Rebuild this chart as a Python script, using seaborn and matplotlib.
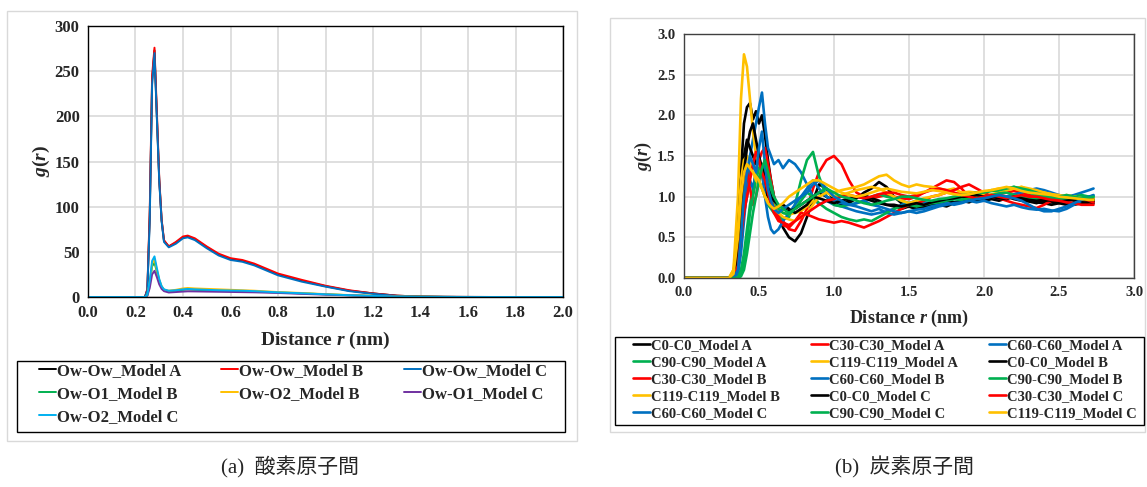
import matplotlib
matplotlib.use('Agg')
import matplotlib.pyplot as plt
from matplotlib.patches import Rectangle
import seaborn as sns
import pandas as pd

# ---------------- (a) oxygen pairs ----------------
r_o = [0.00, 0.24, 0.25, 0.26, 0.27, 0.28, 0.29, 0.30, 0.31, 0.32, 0.34, 0.37, 0.40, 0.42, 0.45,
       0.50, 0.55, 0.60, 0.65, 0.70, 0.80, 0.90, 1.00, 1.10, 1.20, 1.30, 1.40, 1.50, 1.60, 1.80, 2.00]
ow_ow_a = [0, 0, 8, 90, 240, 273, 200, 130, 85, 62, 56, 60, 66, 67, 64,
           55, 47, 42, 40, 36, 25, 18, 12, 7, 4, 1.5, 0.5, 0.2, 0.1, 0, 0]
ow_ow_b = [0, 0, 9, 95, 245, 276, 205, 132, 86, 63, 56, 61, 67, 68, 65,
           56, 48, 43, 41, 37, 26, 19, 12.5, 7.5, 4, 1.5, 0.5, 0.2, 0.1, 0, 0]
ow_ow_c = [0, 0, 7, 85, 235, 270, 198, 128, 84, 61, 55, 59, 65, 66, 63,
           54, 46, 41, 39, 35, 24, 17, 11.5, 6.5, 3.5, 1.2, 0.4, 0.2, 0.1, 0, 0]
ow_o1_b = [0, 0, 2, 15, 34, 38, 28, 18, 11, 8, 6, 7, 8, 8.5, 8,
           7.5, 7, 7, 6.5, 6, 5, 4, 3, 2, 1.2, 0.6, 0.3, 0.1, 0, 0, 0]
ow_o2_b = [0, 0, 2, 16, 37, 42, 30, 19, 12, 8, 7, 8, 9.5, 10, 9.5,
           9, 8.5, 8, 7.5, 7, 5.5, 4.5, 3.2, 2.2, 1.3, 0.6, 0.3, 0.1, 0, 0, 0]
ow_o1_c = [0, 0, 1.5, 10, 25, 29, 22, 14, 9, 6.5, 5, 5.5, 6, 6.3, 6.2,
           6, 5.8, 5.6, 5.4, 5.2, 4.5, 3.5, 2.6, 1.8, 1.0, 0.5, 0.2, 0.1, 0, 0, 0]
ow_o2_c = [0, 0, 2.5, 18, 40, 45, 32, 20, 12, 8.5, 7, 7.5, 8.5, 9, 8.5,
           8, 7.5, 7.2, 7, 6.5, 5.2, 4.2, 3, 2, 1.2, 0.5, 0.2, 0.1, 0, 0, 0]

o_names = ['Ow-Ow_Model A', 'Ow-Ow_Model B', 'Ow-Ow_Model C', 'Ow-O1_Model B',
           'Ow-O2_Model B', 'Ow-O1_Model C', 'Ow-O2_Model C']
o_values = [ow_ow_a, ow_ow_b, ow_ow_c, ow_o1_b, ow_o2_b, ow_o1_c, ow_o2_c]
o_colors = ['#000000', '#FF0000', '#0070C0', '#00B050', '#FFC000', '#7030A0', '#00B0F0']

# ---------------- (b) carbon pairs ----------------
r_c = [0.00, 0.30, 0.33, 0.36, 0.38,
       0.40, 0.42, 0.44, 0.46, 0.48, 0.50, 0.52, 0.54, 0.56, 0.58, 0.60,
       0.63, 0.66, 0.70, 0.74, 0.78, 0.82, 0.86, 0.90, 0.95,
       1.00, 1.05, 1.10, 1.15, 1.20, 1.25, 1.30, 1.35, 1.40, 1.45,
       1.50, 1.55, 1.60, 1.65, 1.70, 1.75, 1.80, 1.85, 1.90, 1.95,
       2.00, 2.05, 2.10, 2.15, 2.20, 2.25, 2.30, 2.35, 2.40, 2.45,
       2.50, 2.55, 2.60, 2.65, 2.70, 2.73]

c0_a = [0, 0, 0.02, 0.4, 1.3,
        1.9, 2.1, 2.15, 1.95, 2.05, 1.9, 2.0, 1.75, 1.45, 1.2, 1.0,
        0.8, 0.62, 0.5, 0.45, 0.55, 0.75, 0.95, 1.15, 1.1,
        0.95, 0.9, 0.92, 0.98, 1.05, 1.1, 1.18, 1.12, 1.0, 0.92,
        0.88, 0.85, 0.88, 0.86, 0.9, 0.88, 0.92, 0.95, 0.93, 0.97,
        0.95, 0.98, 0.96, 1.0, 0.97, 0.95, 0.94, 0.92, 0.95, 0.93,
        0.92, 0.9, 0.93, 0.91, 0.93, 0.92]
c30_a = [0, 0, 0, 0.1, 0.5,
         0.9, 1.2, 1.3, 1.35, 1.5, 1.45, 1.55, 1.6, 1.4, 1.2, 1.0,
         0.8, 0.7, 0.6, 0.58, 0.7, 0.85, 1.1, 1.3, 1.45,
         1.5, 1.4, 1.2, 1.05, 1.0, 0.98, 1.0, 1.02, 1.0, 0.98,
         0.97, 1.0, 1.05, 1.1, 1.15, 1.2, 1.18, 1.1, 1.0, 0.95,
         0.97, 1.0, 1.03, 1.05, 1.07, 1.05, 1.02, 1.0, 1.0, 0.98,
         0.97, 0.95, 0.97, 0.95, 0.94, 0.95]
c60_a = [0, 0, 0, 0.05, 0.3,
         0.7, 1.1, 1.5, 1.7, 1.9, 2.1, 2.28, 1.9, 1.6, 1.5, 1.4,
         1.45, 1.35, 1.45, 1.4, 1.3, 1.15, 1.0, 0.9, 0.95,
         0.9, 0.88, 0.85, 0.82, 0.8, 0.78, 0.8, 0.82, 0.85, 0.9,
         0.92, 0.95, 0.93, 0.92, 0.94, 0.96, 0.98, 1.0, 0.98, 1.0,
         1.02, 1.0, 0.98, 1.0, 1.03, 1.05, 1.08, 1.1, 1.08, 1.05,
         1.02, 1.0, 1.02, 1.05, 1.08, 1.1]
c90_a = [0, 0, 0, 0, 0.1,
         0.3, 0.6, 0.9, 1.1, 1.3, 1.2, 1.1, 1.0, 0.9, 0.85, 0.8,
         0.75, 0.72, 0.75, 0.9, 1.2, 1.45, 1.55, 1.25, 1.0,
         0.9, 0.88, 0.9, 0.92, 0.95, 1.0, 1.03, 1.0, 0.98, 0.95,
         0.92, 0.9, 0.88, 0.9, 0.92, 0.95, 0.97, 0.98, 1.0, 1.02,
         1.05, 1.08, 1.06, 1.1, 1.12, 1.08, 1.05, 1.02, 1.0, 0.98,
         1.0, 0.98, 1.0, 1.02, 1.0, 1.01]
c119_a = [0, 0, 0.1, 1.0, 2.2,
          2.75, 2.6, 2.2, 1.8, 1.5, 1.3, 1.25, 1.1, 1.0, 0.95, 0.9,
          0.85, 0.8, 0.78, 0.8, 0.82, 0.88, 0.95, 1.0, 1.05,
          1.05, 1.08, 1.1, 1.12, 1.15, 1.2, 1.25, 1.27, 1.2, 1.15,
          1.12, 1.15, 1.13, 1.12, 1.1, 1.08, 1.1, 1.05, 1.0, 1.0,
          1.02, 1.03, 1.05, 1.08, 1.1, 1.12, 1.08, 1.05, 1.05, 1.03,
          1.0, 1.02, 1.0, 0.98, 0.97, 0.96]
c0_b = [0, 0, 0.05, 0.5, 1.2,
        1.5, 1.7, 1.6, 1.5, 1.4, 1.45, 1.3, 1.1, 0.95, 0.9, 0.85,
        0.88, 0.9, 0.85, 0.8, 0.85, 0.9, 1.0, 1.05, 1.0,
        0.95, 0.92, 0.95, 1.0, 1.02, 0.98, 0.95, 0.9, 0.88, 0.85,
        0.88, 0.85, 0.88, 0.9, 0.92, 0.95, 0.93, 0.95, 0.98, 0.96,
        0.95, 0.97, 0.95, 0.98, 1.0, 0.97, 0.95, 0.93, 0.92, 0.9,
        0.92, 0.93, 0.9, 0.92, 0.93, 0.94]
c30_b = [0, 0, 0, 0.2, 0.6,
         1.0, 1.3, 1.1, 0.9, 1.0, 1.2, 1.35, 1.45, 1.2, 1.0, 0.85,
         0.75, 0.65, 0.62, 0.7, 0.8, 0.78, 0.75, 0.72, 0.7,
         0.68, 0.7, 0.68, 0.65, 0.62, 0.66, 0.7, 0.75, 0.8, 0.85,
         0.9, 0.92, 0.95, 1.0, 1.02, 1.05, 1.08, 1.12, 1.15, 1.1,
         1.05, 1.0, 0.98, 0.95, 0.92, 0.9, 0.88, 0.86, 0.9, 0.95,
         0.98, 1.0, 0.98, 0.97, 0.95, 0.93]
c60_b = [0, 0, 0, 0.1, 0.4,
         0.8, 1.0, 1.2, 1.1, 1.3, 1.5, 1.3, 1.0, 0.75, 0.6, 0.55,
         0.6, 0.7, 0.8, 0.9, 1.0, 1.1, 1.2, 1.1, 1.0,
         0.95, 0.92, 0.9, 0.88, 0.85, 0.82, 0.85, 0.8, 0.78, 0.8,
         0.82, 0.84, 0.85, 0.88, 0.9, 0.92, 0.9, 0.92, 0.95, 0.93,
         0.95, 0.92, 0.9, 0.88, 0.9, 0.87, 0.85, 0.84, 0.85, 0.83,
         0.82, 0.85, 0.9, 0.95, 0.97, 0.98]
c90_b = [0, 0, 0, 0, 0.05,
         0.2, 0.45, 0.8, 1.0, 1.2, 1.35, 1.4, 1.3, 1.15, 1.05, 0.95,
         0.85, 0.8, 0.78, 0.85, 0.95, 1.05, 1.0, 0.92, 0.85,
         0.8, 0.75, 0.72, 0.7, 0.72, 0.7, 0.75, 0.8, 0.85, 0.88,
         0.9, 0.88, 0.9, 0.92, 0.93, 0.95, 0.97, 0.96, 0.98, 1.0,
         1.0, 1.02, 1.04, 1.05, 1.02, 1.0, 0.98, 0.97, 0.98, 1.0,
         0.98, 0.97, 0.98, 0.99, 1.0, 0.99]
c119_b = [0, 0, 0.1, 0.6, 1.2,
          1.45, 1.5, 1.4, 1.3, 1.2, 1.15, 1.1, 1.0, 0.95, 0.9, 0.85,
          0.8, 0.75, 0.72, 0.7, 0.75, 0.8, 0.9, 1.0, 1.05,
          1.0, 1.02, 1.05, 1.08, 1.1, 1.12, 1.1, 1.05, 1.0, 0.95,
          0.92, 0.95, 0.98, 1.0, 1.02, 1.05, 1.03, 1.05, 1.06, 1.05,
          1.05, 1.08, 1.1, 1.08, 1.1, 1.12, 1.1, 1.08, 1.05, 1.03,
          1.02, 1.0, 1.0, 0.98, 0.97, 0.98]
c0_c = [0, 0, 0.02, 0.3, 0.9,
        1.3, 1.6, 1.8, 1.9, 1.7, 1.5, 1.35, 1.25, 1.1, 1.0, 0.95,
        0.9, 0.85, 0.82, 0.85, 0.9, 0.95, 1.0, 0.98, 0.95,
        0.92, 0.95, 0.98, 1.0, 0.98, 0.95, 0.92, 0.9, 0.9, 0.88,
        0.9, 0.92, 0.9, 0.93, 0.95, 0.97, 0.98, 1.0, 1.0, 1.02,
        1.0, 1.0, 0.98, 0.97, 1.0, 0.98, 0.96, 0.95, 0.96, 0.95,
        0.94, 0.95, 0.96, 0.95, 0.96, 0.96]
c30_c = [0, 0, 0, 0.15, 0.5,
         0.8, 1.0, 1.2, 1.4, 1.55, 1.45, 1.3, 1.2, 1.05, 0.9, 0.8,
         0.7, 0.68, 0.65, 0.7, 0.75, 0.8, 0.85, 0.9, 0.95,
         0.97, 1.0, 1.02, 1.0, 0.98, 1.0, 1.03, 1.05, 1.05, 1.02,
         1.0, 1.02, 1.05, 1.08, 1.1, 1.08, 1.05, 1.02, 1.0, 0.98,
         1.0, 1.02, 1.0, 0.98, 1.0, 1.02, 1.0, 1.0, 0.98, 0.96,
         0.95, 0.93, 0.92, 0.9, 0.9, 0.9]
c60_c = [0, 0, 0, 0.1, 0.5,
         1.0, 1.3, 1.5, 1.4, 1.3, 1.6, 1.8, 1.4, 1.1, 0.95, 0.85,
         0.8, 0.85, 0.9, 0.95, 1.0, 1.05, 1.15, 1.2, 1.1,
         1.0, 0.95, 0.9, 0.92, 0.95, 0.9, 0.88, 0.85, 0.82, 0.8,
         0.82, 0.8, 0.82, 0.85, 0.88, 0.9, 0.92, 0.93, 0.95, 0.97,
         0.98, 1.0, 1.02, 1.0, 0.98, 0.95, 0.9, 0.85, 0.82, 0.82,
         0.85, 0.88, 0.92, 0.96, 1.0, 1.02]
c90_c = [0, 0, 0, 0, 0.02,
         0.1, 0.3, 0.55, 0.8, 1.0, 1.2, 1.35, 1.45, 1.3, 1.15, 1.0,
         0.9, 0.85, 0.8, 0.85, 0.9, 0.95, 1.0, 1.05, 1.1,
         1.05, 1.0, 0.98, 0.95, 0.92, 0.9, 0.92, 0.95, 0.97, 1.0,
         1.0, 0.98, 0.96, 0.95, 0.97, 0.98, 1.0, 1.02, 1.03, 1.05,
         1.05, 1.07, 1.08, 1.1, 1.12, 1.1, 1.08, 1.05, 1.02, 1.0,
         1.0, 1.02, 1.0, 0.98, 0.99, 1.0]
c119_c = [0, 0, 0.05, 0.5, 1.0,
          1.3, 1.4, 1.35, 1.3, 1.25, 1.2, 1.1, 1.0, 0.92, 0.88, 0.85,
          0.88, 0.92, 1.0, 1.05, 1.1, 1.15, 1.2, 1.2, 1.15,
          1.1, 1.05, 1.02, 1.0, 1.02, 1.05, 1.08, 1.1, 1.08, 1.06,
          1.05, 1.04, 1.06, 1.08, 1.07, 1.05, 1.03, 1.02, 1.03, 1.05,
          1.07, 1.08, 1.1, 1.12, 1.1, 1.07, 1.05, 1.04, 1.03, 1.02,
          1.0, 0.99, 0.98, 0.97, 0.96, 0.96]

c_names = ['C0-C0_Model A', 'C30-C30_Model A', 'C60-C60_Model A', 'C90-C90_Model A',
           'C119-C119_Model A', 'C0-C0_Model B', 'C30-C30_Model B', 'C60-C60_Model B',
           'C90-C90_Model B', 'C119-C119_Model B', 'C0-C0_Model C', 'C30-C30_Model C',
           'C60-C60_Model C', 'C90-C90_Model C', 'C119-C119_Model C']
c_values = [c0_a, c30_a, c60_a, c90_a, c119_a, c0_b, c30_b, c60_b, c90_b, c119_b,
            c0_c, c30_c, c60_c, c90_c, c119_c]
c_colors = ['#000000', '#FF0000', '#0070C0', '#00B050', '#FFC000'] * 3


def long_frame(r, names, values):
    parts = [pd.DataFrame({'r': r, 'g': v, 'series': n}) for n, v in zip(names, values)]
    return pd.concat(parts, ignore_index=True)


def row_legend(fig, handles, names, col_x, top_y, size, spacing, hlen):
    # one frameless legend per column so entries read row by row like the original
    font = {'family': 'Liberation Serif', 'weight': 'bold', 'size': size}
    for c, x in enumerate(col_x):
        idx = list(range(c, len(names), 3))
        fig.legend([handles[i] for i in idx], [names[i] for i in idx],
                   loc='upper left', bbox_to_anchor=(x, top_y), bbox_transform=fig.transFigure,
                   frameon=False, borderpad=0, borderaxespad=0, prop=font,
                   handlelength=hlen, handletextpad=0.1, labelspacing=spacing)


sns.set_theme(style='whitegrid')
plt.rcParams['font.family'] = ['Liberation Serif', 'Noto Sans CJK JP', 'DejaVu Sans']
plt.rcParams['mathtext.fontset'] = 'custom'
plt.rcParams['mathtext.it'] = 'Liberation Serif:bold:italic'
plt.rcParams['mathtext.rm'] = 'Liberation Serif:bold'
plt.rcParams['mathtext.bf'] = 'Liberation Serif:bold'

fig = plt.figure(figsize=(11.47, 4.87), dpi=100)
fig.patch.set_facecolor('white')

# outer panel frames
fig.patches.append(Rectangle((0.0061, 0.0945), 0.497, 0.883, transform=fig.transFigure,
                             facecolor='white', edgecolor='#D9D9D9', lw=1, zorder=-5))
fig.patches.append(Rectangle((0.5318, 0.1129), 0.4664, 0.850, transform=fig.transFigure,
                             facecolor='white', edgecolor='#D9D9D9', lw=1, zorder=-5))
# legend frames
fig.patches.append(Rectangle((0.0148, 0.1129), 0.4778, 0.1458, transform=fig.transFigure,
                             facecolor='none', edgecolor='black', lw=1, zorder=0))
fig.patches.append(Rectangle((0.5362, 0.1273), 0.4612, 0.1807, transform=fig.transFigure,
                             facecolor='none', edgecolor='black', lw=1, zorder=0))

ax1 = fig.add_axes([0.0767, 0.3901, 0.4142, 0.5565])
ax2 = fig.add_axes([0.5963, 0.4292, 0.3924, 0.5010])

df_o = long_frame(r_o, o_names, o_values)
df_c = long_frame(r_c, c_names, c_values)

sns.lineplot(data=df_o, x='r', y='g', hue='series', hue_order=o_names,
             palette=dict(zip(o_names, o_colors)), estimator=None, sort=False,
             linewidth=1.4, legend=False, ax=ax1)
sns.lineplot(data=df_c, x='r', y='g', hue='series', hue_order=c_names,
             palette=dict(zip(c_names, c_colors)), estimator=None, sort=False,
             linewidth=1.9, legend=False, ax=ax2)

ax1.set_xlim(0, 2.0)
ax1.set_ylim(0, 300)
ax1.set_xticks([0.0, 0.2, 0.4, 0.6, 0.8, 1.0, 1.2, 1.4, 1.6, 1.8, 2.0])
ax1.set_yticks([0, 50, 100, 150, 200, 250, 300])
ax1.set_xticklabels(['0.0', '0.2', '0.4', '0.6', '0.8', '1.0', '1.2', '1.4', '1.6', '1.8', '2.0'])

ax2.set_xlim(0, 3.0)
ax2.set_ylim(0, 3.0)
ax2.set_xticks([0.0, 0.5, 1.0, 1.5, 2.0, 2.5, 3.0])
ax2.set_yticks([0.0, 0.5, 1.0, 1.5, 2.0, 2.5, 3.0])
ax2.set_xticklabels(['0.0', '0.5', '1.0', '1.5', '2.0', '2.5', '3.0'])
ax2.set_yticklabels(['0.0', '0.5', '1.0', '1.5', '2.0', '2.5', '3.0'])

for ax, tsize, lsize, spc in [(ax1, 12, 14, '#000000'), (ax2, 10.5, 13, '#404040')]:
    ax.grid(True, color='#D9D9D9', linewidth=1.2)
    ax.set_axisbelow(True)
    ax.tick_params(length=0, pad=6, labelsize=tsize)
    for lab in ax.get_xticklabels() + ax.get_yticklabels():
        lab.set_fontweight('bold')
    for sp in ax.spines.values():
        sp.set_color(spc)
        sp.set_linewidth(1.0)
    ax.set_xlabel('Distance $r$ (nm)', fontsize=lsize, fontweight='bold', labelpad=6)
    ax.set_ylabel('$g$($r$)', fontsize=lsize, fontweight='bold', labelpad=2)

# legends, filled row by row
row_legend(fig, ax1.lines[:len(o_names)], o_names, [0.0340, 0.1927, 0.3522],
           0.2546, 12, 0.42, 1.0)
row_legend(fig, ax2.lines[:len(c_names)], c_names, [0.5519, 0.7071, 0.8622],
           0.3035, 10.5, 0.26, 1.15)

# captions
fig.text(0.253, 0.041, '(a)  酸素原子間', ha='center', va='center', fontsize=15)
fig.text(0.789, 0.041, '(b)  炭素原子間', ha='center', va='center', fontsize=15)

fig.savefig('out.png', dpi=100, facecolor='white')
